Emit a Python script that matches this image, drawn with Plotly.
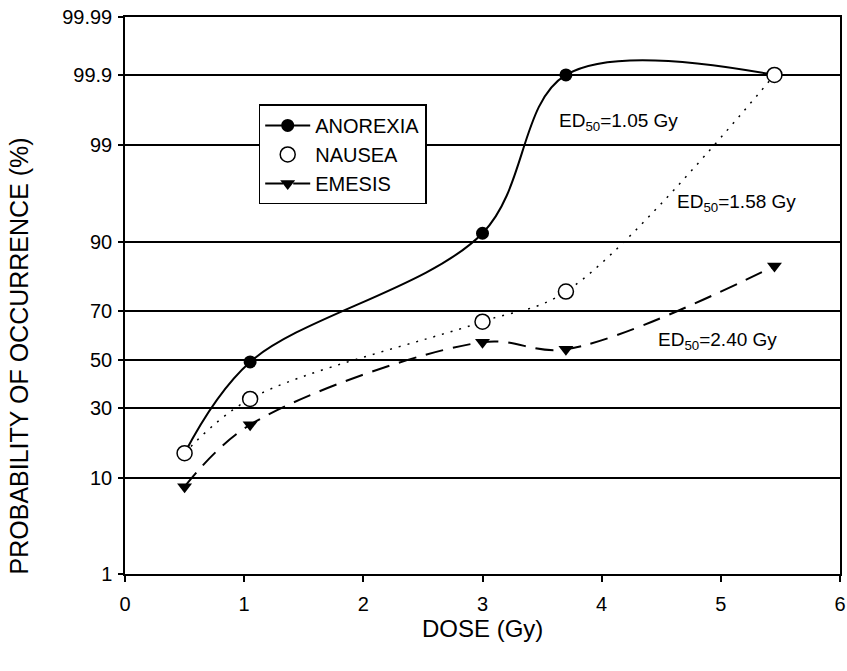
import plotly.graph_objects as go
from statistics import NormalDist

# ---- data ----
dose_anorexia = [0.5, 1.05, 3.0, 3.7, 5.45]
pct_anorexia = [15.5, 49, 91.5, 99.9, 99.9]

dose_nausea = [0.5, 1.05, 3.0, 3.7, 5.45]
pct_nausea = [15.5, 33.5, 66, 77, 99.9]

dose_emesis = [0.5, 1.05, 3.0, 3.7, 5.45]
pct_emesis = [8.4, 24, 57.5, 54.5, 84.5]

y_tick_labels = ["1", "10", "30", "50", "70", "90", "99", "99.9", "99.99"]
x_tick_vals = [0, 1, 2, 3, 4, 5, 6]

ed50_labels = ["ED<sub>50</sub>=1.05 Gy", "ED<sub>50</sub>=1.58 Gy", "ED<sub>50</sub>=2.40 Gy"]
ed50_x = [4.14, 5.13, 4.97]
ed50_pct = [99.505, 95.54, 58.0]

# ---- probit transform ----
nd = NormalDist()


def probit(p):
    return [nd.inv_cdf(v / 100.0) for v in p]


y_tick_vals = probit([float(t) for t in y_tick_labels])

FONT = "Liberation Sans, Arial, sans-serif"

fig = go.Figure()

fig.add_trace(go.Scatter(
    x=dose_anorexia, y=probit(pct_anorexia), mode="lines+markers",
    name="ANOREXIA", legendrank=1,
    line=dict(color="black", width=2, shape="spline", smoothing=1.0),
    marker=dict(symbol="circle", size=13, color="black"),
))
fig.add_trace(go.Scatter(
    x=dose_emesis, y=probit(pct_emesis), mode="lines+markers",
    name="EMESIS", legendrank=3,
    line=dict(color="black", width=2, shape="spline", smoothing=1.0, dash="18px,10px"),
    marker=dict(symbol="triangle-down", size=13, color="black"),
))
fig.add_trace(go.Scatter(
    x=dose_nausea, y=probit(pct_nausea), mode="lines",
    showlegend=False,
    line=dict(color="black", width=1.5, shape="spline", smoothing=1.0, dash="2px,7px"),
))
fig.add_trace(go.Scatter(
    x=dose_nausea, y=probit(pct_nausea), mode="markers",
    name="NAUSEA", legendrank=2,
    marker=dict(symbol="circle", size=15, color="white",
                line=dict(color="black", width=1.5)),
))

for lx, lp, lt in zip(ed50_x, probit(ed50_pct), ed50_labels):
    fig.add_annotation(x=lx, y=lp, text=lt, showarrow=False,
                       xref="x", yref="y", xanchor="center", yanchor="middle",
                       font=dict(family=FONT, size=19, color="black"))

fig.add_annotation(x=-0.148, y=-0.005, xref="paper", yref="paper",
                   text="PROBABILITY OF OCCURRENCE (%)", textangle=-90,
                   showarrow=False, xanchor="center", yanchor="bottom",
                   font=dict(family=FONT, size=25, color="black"))
fig.add_annotation(x=3, y=-0.097, xref="x", yref="paper",
                   text="DOSE (Gy)", showarrow=False,
                   xanchor="center", yanchor="middle",
                   font=dict(family=FONT, size=24, color="black"))

fig.update_layout(
    width=847, height=671,
    margin=dict(l=125, r=7, t=17, b=97, autoexpand=False),
    paper_bgcolor="white", plot_bgcolor="white",
    font=dict(family=FONT, color="black"),
    legend=dict(x=0.187, y=0.843, xanchor="left", yanchor="top",
                bgcolor="white", bordercolor="black", borderwidth=1.5,
                font=dict(family=FONT, size=20, color="black"),
                itemwidth=45, tracegroupgap=0),
    xaxis=dict(range=[0, 6], tickvals=x_tick_vals, showgrid=False, zeroline=False,
               automargin=False,
               showline=True, linecolor="black", linewidth=1.5, mirror=True,
               ticks="outside", ticklen=6, tickcolor="black", tickwidth=1.5,
               ticklabelstandoff=5,
               tickfont=dict(family=FONT, size=20, color="black")),
    yaxis=dict(range=[y_tick_vals[0], y_tick_vals[-1]], tickvals=y_tick_vals,
               automargin=False,
               ticktext=y_tick_labels, showgrid=True, gridcolor="black", gridwidth=1.6,
               zeroline=False, showline=True, linecolor="black", linewidth=1.5,
               mirror=True, ticks="outside", ticklen=5, tickcolor="black",
               tickwidth=1.5, ticklabelstandoff=2,
               tickfont=dict(family=FONT, size=20, color="black")),
)

fig.write_html("out.html", config={"displayModeBar": False},
               post_script="document.body.style.margin='0';document.body.style.overflow='hidden';")
